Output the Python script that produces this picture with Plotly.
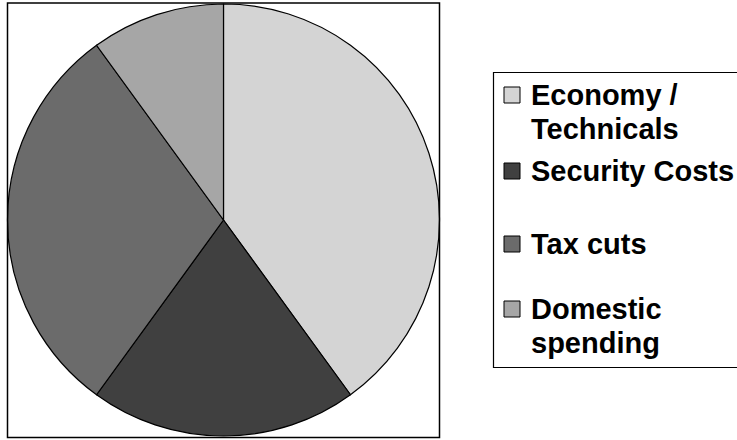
import plotly.graph_objects as go

labels = ["Economy /<br>Technicals", "Security Costs", "Tax cuts", "Domestic<br>spending"]
values = [40, 20, 30, 10]
colors = ["#d4d4d4", "#404040", "#6b6b6b", "#a6a6a6"]

W, H = 737, 440

fig = go.Figure()
fig.add_trace(go.Pie(
    labels=labels, values=values, sort=False, direction="clockwise", rotation=0,
    marker=dict(colors=colors, line=dict(color="black", width=1.2)),
    textinfo="none", hoverinfo="label+percent", showlegend=False,
    domain=dict(x=[7.5 / W, 439.5 / W], y=[2.5 / H, 437.5 / H]),
))

shapes = [
    # plot area frame
    dict(type="rect", xref="paper", yref="paper", x0=7.5 / W, x1=439.5 / W,
         y0=1 - 437.5 / H, y1=1 - 3 / H, line=dict(color="black", width=1.5)),
    # legend frame (right edge runs off the canvas, as in the original)
    dict(type="rect", xref="paper", yref="paper", x0=493.5 / W, x1=760 / W,
         y0=1 - 367.5 / H, y1=1 - 72.5 / H, line=dict(color="black", width=1.2)),
]

# legend rows: first-line centre (px from top)
row_y = [95, 171, 244, 309]
line_gap = 34
annotations = []
for lab, col, yc in zip(labels, colors, row_y):
    shapes.append(dict(type="rect", xref="paper", yref="paper",
                       x0=504 / W, x1=520 / W, y0=1 - (yc + 8) / H, y1=1 - (yc - 8) / H,
                       fillcolor=col, line=dict(color="black", width=1)))
    for i, part in enumerate(lab.split("<br>")):
        annotations.append(dict(
            xref="paper", yref="paper", x=529 / W, y=1 - (yc + i * line_gap) / H,
            xanchor="left", yanchor="middle", showarrow=False, text=part,
            font=dict(family="Liberation Sans, Arial, sans-serif", size=29,
                      color="black", weight="bold")))

fig.update_layout(
    width=W, height=H, margin=dict(l=0, r=0, t=0, b=0),
    paper_bgcolor="white", plot_bgcolor="white",
    shapes=shapes, annotations=annotations,
)

fig.write_html("out.html", config={"displayModeBar": False},
               post_script="document.body.style.margin='0px';")
